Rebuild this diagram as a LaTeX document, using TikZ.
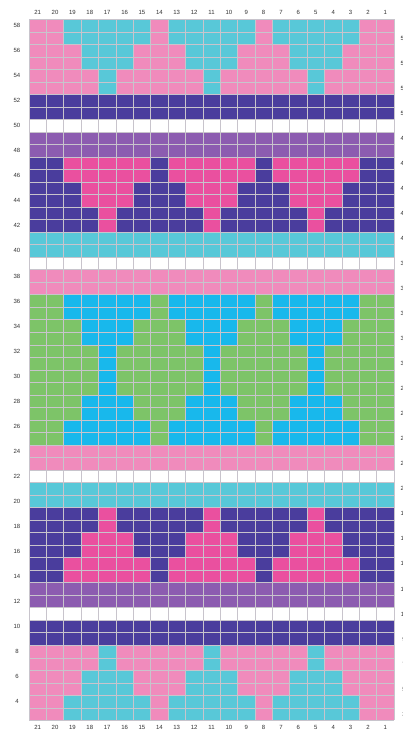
\documentclass[tikz,border=0pt]{standalone}
\usepackage{fontspec}
\setmainfont{Liberation Sans}
\definecolor{colP}{RGB}{240,139,188}
\definecolor{colC}{RGB}{88,200,216}
\definecolor{colB}{RGB}{74,61,157}
\definecolor{colU}{RGB}{140,92,176}
\definecolor{colM}{RGB}{234,80,159}
\definecolor{colG}{RGB}{125,196,104}
\definecolor{colS}{RGB}{24,184,236}
\definecolor{colW}{RGB}{255,255,255}
\definecolor{gridc}{RGB}{200,196,204}
\definecolor{labc}{RGB}{50,50,50}
\newcommand\chcw{17.381}
\newcommand\chrh{12.52}
\newcommand\chgx{29}
\newcommand\chgy{19.3}
% band: top row, number of rows, background colour letter
\newcommand\chartband[3]{%
  \fill[col#3] (\chgx,{\chgy+(58-#1)*\chrh}) rectangle ++({21*\chcw},{#2*\chrh});}
% motif cells: top row, number of rows, colour letter, column list macro (1 = leftmost)
\newcommand\chartcells[4]{%
  \foreach \k in #4{%
    \fill[col#3] ({\chgx+(\k-1)*\chcw},{\chgy+(58-#1)*\chrh}) rectangle ++(\chcw,{#2*\chrh});}}
\newcommand\wideset{3,4,5,6,7,9,10,11,12,13,15,16,17,18,19}
\newcommand\midset{4,5,6,10,11,12,16,17,18}
\newcommand\narrowset{5,11,17}
\begin{document}
\begin{tikzpicture}[x=1pt,y=-1pt,
  gridline/.style={draw=gridc,line width=0.6pt},
  lab/.style={font=\fontsize{6}{7}\selectfont,text=labc,inner sep=0pt}]
\useasboundingbox (0,0) rectangle (403,731);
\clip (0,0) rectangle (403,731);
\fill[white] (0,0) rectangle (403,731);
% bands
\chartband{58}{2}{P}\chartcells{58}{2}{C}{\wideset}
\chartband{56}{2}{P}\chartcells{56}{2}{C}{\midset}
\chartband{54}{2}{P}\chartcells{54}{2}{C}{\narrowset}
\chartband{52}{2}{B}
\chartband{50}{1}{W}
\chartband{49}{2}{U}
\chartband{47}{2}{B}\chartcells{47}{2}{M}{\wideset}
\chartband{45}{2}{B}\chartcells{45}{2}{M}{\midset}
\chartband{43}{2}{B}\chartcells{43}{2}{M}{\narrowset}
\chartband{41}{2}{C}
\chartband{39}{1}{W}
\chartband{38}{2}{P}
\chartband{36}{2}{G}\chartcells{36}{2}{S}{\wideset}
\chartband{34}{2}{G}\chartcells{34}{2}{S}{\midset}
\chartband{32}{4}{G}\chartcells{32}{4}{S}{\narrowset}
\chartband{28}{2}{G}\chartcells{28}{2}{S}{\midset}
\chartband{26}{2}{G}\chartcells{26}{2}{S}{\wideset}
\chartband{24}{2}{P}
\chartband{22}{1}{W}
\chartband{21}{2}{C}
\chartband{19}{2}{B}\chartcells{19}{2}{M}{\narrowset}
\chartband{17}{2}{B}\chartcells{17}{2}{M}{\midset}
\chartband{15}{2}{B}\chartcells{15}{2}{M}{\wideset}
\chartband{13}{2}{U}
\chartband{11}{1}{W}
\chartband{10}{2}{B}
\chartband{8}{2}{P}\chartcells{8}{2}{C}{\narrowset}
\chartband{6}{2}{P}\chartcells{6}{2}{C}{\midset}
\chartband{4}{2}{P}\chartcells{4}{2}{C}{\wideset}
% grid lines
\foreach \i in {0,...,21}{
  \draw[gridline] ({\chgx+\i*\chcw},\chgy) -- ({\chgx+\i*\chcw},{\chgy+56*\chrh});}
\foreach \j in {0,...,56}{
  \draw[gridline] (\chgx,{\chgy+\j*\chrh}) -- ({\chgx+21*\chcw},{\chgy+\j*\chrh});}
% column numbers
\foreach \i in {1,...,21}{
  \pgfmathtruncatemacro\num{22-\i}
  \node[lab] (top\num) at ({\chgx+(\i-0.5)*\chcw},12.5) {\num};
  \node[lab] (bot\num) at ({\chgx+(\i-0.5)*\chcw},727.5) {\num};}
% row numbers, even on the left, odd on the right
\foreach \r in {4,6,...,58}{
  \node[lab] (left\r) at (17,{\chgy+(58-\r+0.5)*\chrh}) {\r};}
\foreach \r in {3,5,...,57}{
  \node[lab] (right\r) at (404,{\chgy+(58-\r+0.5)*\chrh}) {\r};}
\end{tikzpicture}
\end{document}
